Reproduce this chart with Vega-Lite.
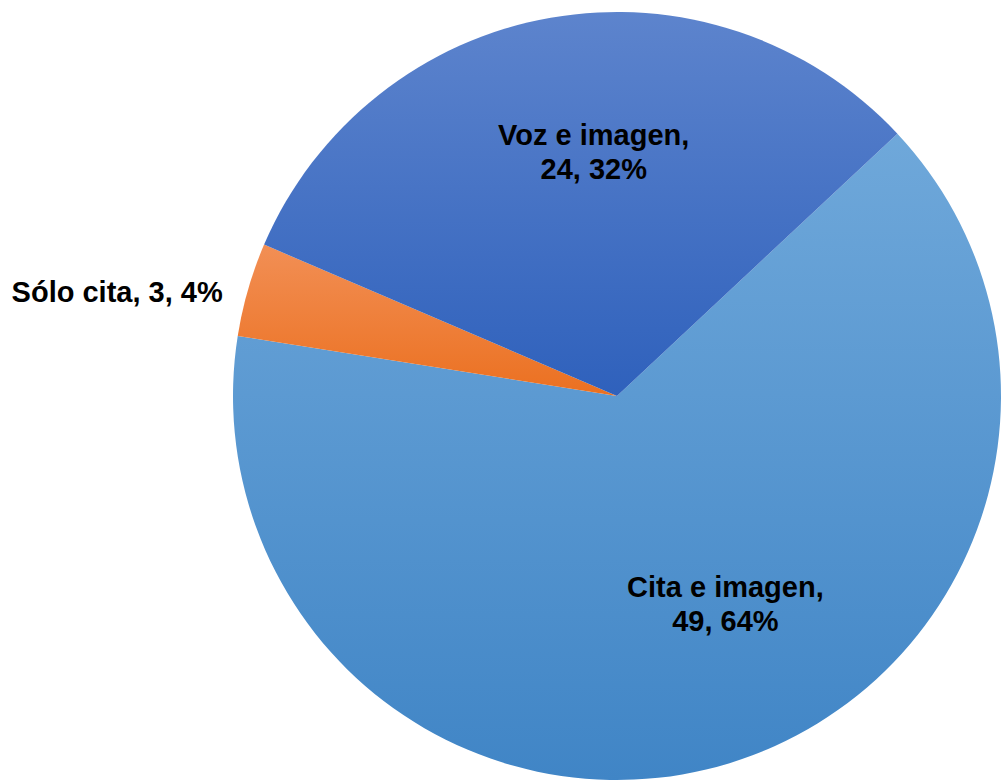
{
  "$schema": "https://vega.github.io/schema/vega-lite/v6.json",
  "autosize": "none",
  "width": 768,
  "height": 768,
  "padding": {"left": 233, "top": 12, "right": 0, "bottom": 0},
  "background": "white",
  "view": {"stroke": null},
  "data": {
    "values": [
      {"cat": "Cita e imagen", "value": 49, "pct": "64%", "ord": 1, "label": "Cita e imagen,\n49, 64%"},
      {"cat": "Sólo cita", "value": 3, "pct": "4%", "ord": 2, "label": "Sólo cita, 3, 4%"},
      {"cat": "Voz e imagen", "value": 24, "pct": "32%", "ord": 3, "label": "Voz e imagen,\n24, 32%"}
    ]
  },
  "encoding": {
    "theta": {"field": "value", "type": "quantitative", "stack": true, "scale": {"range": [0.8186, 7.1018]}},
    "order": {"field": "ord", "type": "quantitative", "sort": "ascending"}
  },
  "layer": [
    {
      "mark": {"type": "arc", "outerRadius": 384, "stroke": null},
      "encoding": {
        "fill": {
          "condition": [
            {"test": "datum.cat === 'Voz e imagen'", "value": {"gradient": "linear", "x1": 0, "y1": 0, "x2": 0, "y2": 1, "stops": [{"offset": 0, "color": "#5D84CD"}, {"offset": 1, "color": "#2F61BC"}]}},
            {"test": "datum.cat === 'Sólo cita'", "value": {"gradient": "linear", "x1": 0, "y1": 0, "x2": 0, "y2": 1, "stops": [{"offset": 0, "color": "#F28F55"}, {"offset": 1, "color": "#EB7020"}]}}
          ],
          "value": {"gradient": "linear", "x1": 0, "y1": 0, "x2": 0, "y2": 1, "stops": [{"offset": 0, "color": "#6FA8DA"}, {"offset": 1, "color": "#4085C6"}]}
        }
      }
    },
    {
      "mark": {"type": "text", "radius": 245, "dx": 19, "dy": -19, "font": "Liberation Sans", "fontWeight": "bold", "fontSize": 29, "lineHeight": 34, "lineBreak": "\n", "align": "center", "baseline": "middle", "color": "black"},
      "encoding": {
        "text": {"condition": {"test": "datum.cat === 'Voz e imagen'", "field": "label"}, "value": ""}
      }
    },
    {
      "mark": {"type": "text", "radius": 230, "dx": 41, "dy": -28, "font": "Liberation Sans", "fontWeight": "bold", "fontSize": 29, "lineHeight": 34, "lineBreak": "\n", "align": "center", "baseline": "middle", "color": "black"},
      "encoding": {
        "text": {"condition": {"test": "datum.cat === 'Cita e imagen'", "field": "label"}, "value": ""}
      }
    },
    {
      "mark": {"type": "text", "radius": 400, "dx": -10, "dy": 8, "font": "Liberation Sans", "fontWeight": "bold", "fontSize": 29, "align": "right", "baseline": "middle", "color": "black"},
      "encoding": {
        "text": {"condition": {"test": "datum.cat === 'Sólo cita'", "field": "label"}, "value": ""}
      }
    }
  ]
}
